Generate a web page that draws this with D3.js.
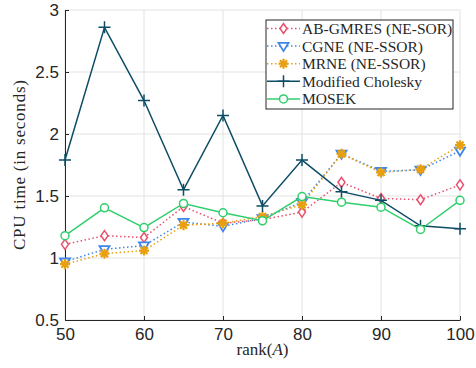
<!DOCTYPE html>
<html>
<head>
<meta charset="utf-8">
<script src="https://cdn.jsdelivr.net/npm/d3@7.9.0/dist/d3.min.js"></script>
<style>
  body { margin: 0; background: #fff; }
  svg { display: block; }
  .tick text { font-family: "Liberation Sans", Arial, sans-serif; font-size: 17px; fill: #262626; }
  .serif { font-family: "Liberation Serif", "DejaVu Serif", serif; fill: #262626; }
</style>
</head>
<body>
<svg id="chart" width="476" height="368"></svg>
<script>
// ---- data ----
const ranks = [50, 55, 60, 65, 70, 75, 80, 85, 90, 95, 100];

const abGmres  = [1.11, 1.18, 1.165, 1.415, 1.28, 1.31, 1.37, 1.61, 1.48, 1.47, 1.59];
const cgne     = [0.97, 1.07, 1.10, 1.29, 1.255, 1.32, 1.45, 1.84, 1.70, 1.71, 1.865];
const mrne     = [0.95, 1.035, 1.06, 1.265, 1.28, 1.335, 1.43, 1.84, 1.69, 1.715, 1.91];
const cholesky = [1.79, 2.86, 2.27, 1.55, 2.15, 1.42, 1.79, 1.535, 1.465, 1.26, 1.235];
const mosek    = [1.18, 1.405, 1.245, 1.44, 1.365, 1.30, 1.495, 1.45, 1.41, 1.23, 1.465];

const seriesNames = ['AB-GMRES (NE-SOR)', 'CGNE (NE-SSOR)', 'MRNE (NE-SSOR)', 'Modified Cholesky', 'MOSEK'];
const xTicks = [50, 60, 70, 80, 90, 100];
const yTicks = [0.5, 1, 1.5, 2, 2.5, 3];

const series = [
  { name: seriesNames[0], values: abGmres,  color: '#e9506c', dash: '1.5,2.5', marker: 'diamond' },
  { name: seriesNames[1], values: cgne,     color: '#3f86ea', dash: '1.5,2.5', marker: 'triangle' },
  { name: seriesNames[2], values: mrne,     color: '#e9a010', dash: '1.5,2.5', marker: 'star' },
  { name: seriesNames[3], values: cholesky, color: '#0d4d66', dash: null,      marker: 'plus' },
  { name: seriesNames[4], values: mosek,    color: '#2fcf6c', dash: null,      marker: 'circle' },
];

// ---- layout ----
const margin = { top: 10, right: 16, bottom: 48, left: 65 };
const width = 476, height = 368;
const svg = d3.select('#chart');

const x = d3.scaleLinear().domain([50, 100]).range([margin.left, width - margin.right]);
const y = d3.scaleLinear().domain([0.5, 3]).range([height - margin.bottom, margin.top]);

// grid
svg.append('g')
  .selectAll('line.vg').data(xTicks).join('line')
  .attr('x1', d => x(d)).attr('x2', d => x(d))
  .attr('y1', y(0.5)).attr('y2', y(3))
  .attr('stroke', '#e2e2e2').attr('stroke-width', 1);
svg.append('g')
  .selectAll('line.hg').data(yTicks).join('line')
  .attr('x1', x(50)).attr('x2', x(100))
  .attr('y1', d => y(d)).attr('y2', d => y(d))
  .attr('stroke', '#e2e2e2').attr('stroke-width', 1);

// axes
const xAxis = svg.append('g')
  .attr('transform', `translate(0,${y(0.5)})`)
  .call(d3.axisBottom(x).tickValues(xTicks).tickSizeInner(-4).tickSizeOuter(0).tickPadding(8));
const yAxis = svg.append('g')
  .attr('transform', `translate(${x(50)},0)`)
  .call(d3.axisLeft(y).tickValues(yTicks).tickSizeInner(-4).tickSizeOuter(0).tickPadding(6)
    .tickFormat(d3.format('~g')));
[xAxis, yAxis].forEach(a => {
  a.select('.domain').attr('stroke', '#262626').attr('stroke-width', 1);
  a.selectAll('.tick line').attr('stroke', '#262626');
});
xAxis.selectAll('.tick text').attr('dy', '0.71em');

// axis titles
svg.append('text').attr('class', 'serif')
  .attr('x', (x(50) + x(100)) / 2).attr('y', 355)
  .attr('text-anchor', 'middle').attr('font-size', 17)
  .html('rank(<tspan font-style="italic">A</tspan>)');
svg.append('text').attr('class', 'serif')
  .attr('transform', `translate(25,${(y(0.5) + y(3)) / 2}) rotate(-90)`)
  .attr('text-anchor', 'middle').attr('font-size', 17)
  .attr('textLength', 170).attr('lengthAdjust', 'spacing')
  .text('CPU time (in seconds)');

// marker drawing
function drawMarker(g, type, color) {
  if (type === 'diamond') {
    g.append('path').attr('d', 'M0,-5L3.5,0L0,5L-3.5,0Z')
      .attr('fill', '#fff').attr('stroke', color).attr('stroke-width', 1.5);
  } else if (type === 'triangle') {
    g.append('path').attr('d', 'M-5,-3.2L5,-3.2L0,5Z')
      .attr('fill', '#fff').attr('stroke', color).attr('stroke-width', 1.8);
  } else if (type === 'star') {
    const p = [];
    for (let i = 0; i < 4; i++) {
      const a = i * Math.PI / 4;
      p.push(`M${-5 * Math.cos(a)},${-5 * Math.sin(a)}L${5 * Math.cos(a)},${5 * Math.sin(a)}`);
    }
    g.append('path').attr('d', p.join('')).attr('stroke', color).attr('stroke-width', 2.2).attr('fill', 'none');
    g.append('circle').attr('r', 2.5).attr('fill', color);
  } else if (type === 'plus') {
    g.append('path').attr('d', 'M-6,0L6,0M0,-6L0,6').attr('stroke', color).attr('stroke-width', 1.5);
  } else if (type === 'circle') {
    g.append('circle').attr('r', 4).attr('fill', '#fff').attr('stroke', color).attr('stroke-width', 1.5);
  }
}

const line = d3.line().x(d => x(d[0])).y(d => y(d[1]));

series.forEach(s => {
  const pts = ranks.map((r, i) => [r, s.values[i]]);
  svg.append('path').datum(pts)
    .attr('d', line)
    .attr('fill', 'none')
    .attr('stroke', s.color)
    .attr('stroke-width', 1.5)
    .attr('stroke-dasharray', s.dash);
  const mg = svg.append('g');
  pts.forEach(p => {
    drawMarker(mg.append('g').attr('transform', `translate(${x(p[0])},${y(p[1])})`), s.marker, s.color);
  });
});

// legend
const lg = svg.append('g').attr('transform', 'translate(266,20)');
lg.append('rect').attr('width', 187).attr('height', 89)
  .attr('fill', '#fff').attr('stroke', '#262626').attr('stroke-width', 1);
series.forEach((s, i) => {
  const yy = 8.5 + i * 17.6;
  lg.append('line').attr('x1', 1).attr('x2', 34).attr('y1', yy).attr('y2', yy)
    .attr('stroke', s.color).attr('stroke-width', 1.5).attr('stroke-dasharray', s.dash);
  drawMarker(lg.append('g').attr('transform', `translate(17.5,${yy})`), s.marker, s.color);
  lg.append('text').attr('class', 'serif')
    .attr('x', 36).attr('y', yy).attr('dy', '0.35em')
    .attr('font-size', 15.5)
    .text(s.name);
});
</script>
</body>
</html>
